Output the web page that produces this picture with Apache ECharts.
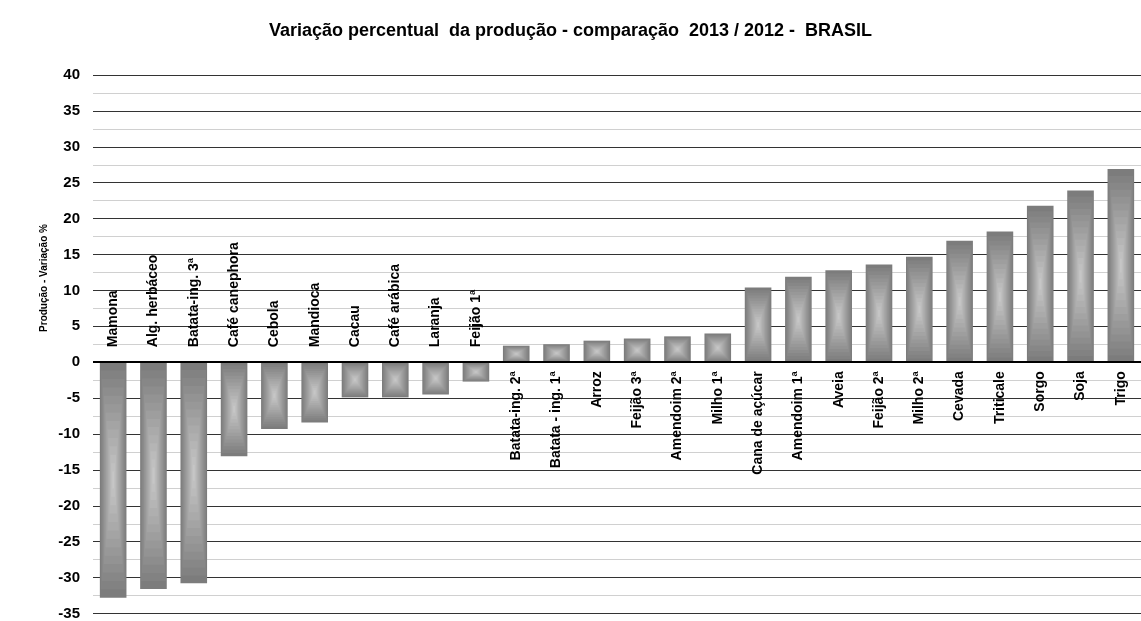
<!DOCTYPE html>
<html>
<head>
<meta charset="utf-8">
<script src="https://cdn.jsdelivr.net/npm/echarts@6/dist/echarts.min.js"></script>
<style>
  html, body { margin: 0; padding: 0; background: #fff; }
  #chart { width: 1141px; height: 621px; }
</style>
</head>
<body>
<div id="chart"></div>
<script>
// culturas, em ordem do gráfico
let culturas = ['Mamona', 'Alg. herbáceo', 'Batata-ing. 3ª', 'Café canephora', 'Cebola', 'Mandioca',
  'Cacau', 'Café arábica', 'Laranja', 'Feijão 1ª', 'Batata-ing. 2ª', 'Batata - ing. 1ª', 'Arroz',
  'Feijão 3ª', 'Amendoim 2ª', 'Milho 1ª', 'Cana de açúcar', 'Amendoim 1ª', 'Aveia', 'Feijão 2ª',
  'Milho 2ª', 'Cevada', 'Triticale', 'Sorgo', 'Soja', 'Trigo']

// variação % 2013/2012
let variacao = [-32.8, -31.6, -30.8, -13.1, -9.3, -8.4,
  -4.9, -4.9, -4.5, -2.7, 2.3, 2.5, 3.0,
  3.3, 3.6, 4.0, 10.4, 11.9, 12.8, 13.6,
  14.7, 16.9, 18.2, 21.8, 23.9, 26.9]

let eixoMin = -35
let eixoMax = 40
let eixoPasso = 5

function mistura(t) {
  // cinza escuro na borda -> cinza claro no centro
  let a = 124, b = 198
  let v = Math.round(a + (b - a) * t)
  return 'rgb(' + v + ',' + v + ',' + v + ')'
}

function desenhaBarra(params, api) {
  let idx = api.value(0)
  let val = api.value(1)
  let topo = api.coord([idx, val])
  let base = api.coord([idx, 0])
  let w = api.size([1, 0])[0] * 0.66
  let x0 = topo[0] - w / 2
  let y0 = Math.min(topo[1], base[1])
  let h = Math.abs(topo[1] - base[1])
  let passos = 14
  let filhos = []
  for (let k = 0; k < passos; k++) {
    let dx = k * (w / 2) / passos
    let dy = k * (h / 2) / passos
    filhos.push({
      type: 'rect',
      shape: { x: x0 + dx, y: y0 + dy, width: w - 2 * dx, height: h - 2 * dy },
      style: { fill: mistura(k / (passos - 1)) }
    })
  }
  let negativo = val < 0
  filhos.push({
    type: 'text',
    x: base[0],
    y: negativo ? base[1] - 15 : base[1] + 9,
    rotation: Math.PI / 2,
    style: {
      text: culturas[idx],
      align: negativo ? 'left' : 'right',
      verticalAlign: 'middle',
      fill: '#000',
      font: 'bold 14px "Liberation Sans", Arial, sans-serif'
    }
  })
  return { type: 'group', children: filhos }
}

let oGrafico = echarts.init(document.getElementById('chart'), null, { renderer: 'canvas' })

let opcao = {
  backgroundColor: '#fff',
  animation: false,
  title: {
    text: 'Variação percentual  da produção - comparação  2013 / 2012 -  BRASIL',
    left: 'center',
    top: 17,
    textStyle: { fontFamily: '"Liberation Sans", Arial, sans-serif', fontWeight: 'bold', fontSize: 18, color: '#000' }
  },
  graphic: [{
    type: 'text',
    x: 44,
    y: 278,
    rotation: Math.PI / 2,
    style: {
      text: 'Produção - Variação %',
      align: 'center',
      verticalAlign: 'middle',
      fill: '#000',
      font: 'bold 10px "Liberation Sans", Arial, sans-serif'
    }
  }],
  grid: { left: 93, right: -10, top: 75, bottom: 6 },
  xAxis: {
    type: 'category',
    data: culturas,
    axisLine: { show: false },
    axisTick: { show: false },
    axisLabel: { show: false },
    splitLine: { show: false }
  },
  yAxis: {
    type: 'value',
    min: eixoMin,
    max: eixoMax,
    interval: eixoPasso,
    axisLine: { show: false },
    axisTick: { show: false },
    axisLabel: {
      margin: 13,
      color: '#000',
      fontWeight: 'bold',
      fontSize: 15,
      fontFamily: '"Liberation Sans", Arial, sans-serif'
    },
    splitLine: { show: true, lineStyle: { color: '#333', width: 1 } },
    minorTick: { show: false, splitNumber: 2 },
    minorSplitLine: { show: true, lineStyle: { color: '#d0d0d0', width: 1 } }
  },
  series: [{
    type: 'custom',
    renderItem: desenhaBarra,
    clip: false,
    data: variacao.map((v, i) => [i, v]),
    z: 3
  }, {
    // linha do zero
    type: 'line',
    data: [],
    markLine: {
      silent: true,
      symbol: 'none',
      label: { show: false },
      lineStyle: { color: '#000', width: 2, type: 'solid' },
      data: [{ yAxis: 0 }]
    },
    z: 4
  }]
}

oGrafico.setOption(opcao)
</script>
</body>
</html>
